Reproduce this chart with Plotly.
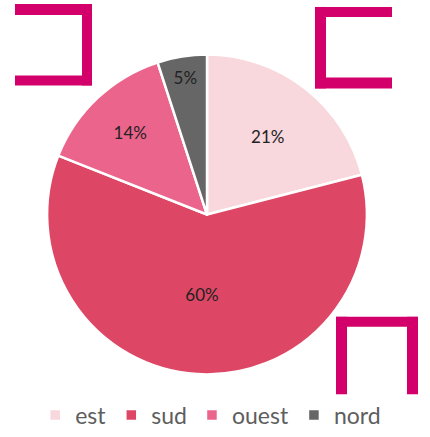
import plotly.graph_objects as go

W, H = 430, 437

labels = ["est", "sud", "ouest", "nord"]
values = [21, 60, 14, 5]
colors = ["#f8d8dd", "#dd4765", "#eb648c", "#666666"]

# decorative brackets (pixel rectangles: x0, y0, x1, y1)
brackets = [
    # top-left "]" shape
    (15, 4, 92, 15), (82, 4, 92, 86), (15, 76, 92, 86),
    # top-right "[" shape
    (315, 7, 392, 17), (315, 7, 326, 89), (315, 78, 392, 89),
    # bottom-right "∩" shape
    (336, 319, 418, 329), (336, 319, 347, 397), (407, 319, 418, 397),
]

CX, CY, R = 207, 216, 161

fig = go.Figure()
fig.add_trace(go.Pie(
    labels=labels, values=values,
    marker=dict(colors=colors, line=dict(color="white", width=2.5)),
    sort=False, direction="clockwise", rotation=0,
    textinfo="percent", textposition="inside",
    insidetextfont=dict(color="#222222", size=17, family="Lato"),
    insidetextorientation="horizontal",
    domain=dict(x=[(CX - R) / W, (CX + R) / W], y=[1 - (CY + R) / H, 1 - (CY - R) / H]),
    hoverinfo="label+percent",
))

shapes = []
for x0, y0, x1, y1 in brackets:
    shapes.append(dict(type="rect", xref="paper", yref="paper",
                       x0=x0 / W, x1=x1 / W, y0=1 - y1 / H, y1=1 - y0 / H,
                       fillcolor="#d3006b", line=dict(width=0), layer="below"))

fig.update_layout(
    width=W, height=H,
    margin=dict(l=0, r=0, t=0, b=0),
    paper_bgcolor="white", plot_bgcolor="white",
    shapes=shapes,
    showlegend=True,
    legend=dict(orientation="h", x=0.49, xanchor="center", y=1 - 418 / H, yanchor="middle",
                font=dict(size=23, color="#5e5e5e", family="Lato"),
                itemwidth=30, tracegroupgap=0, bgcolor="rgba(0,0,0,0)"),
    font=dict(family="Lato"),
)

fig.write_html("out.html", config={"displayModeBar": False},
               post_script="document.body.style.margin='0';document.body.style.overflow='hidden';")
